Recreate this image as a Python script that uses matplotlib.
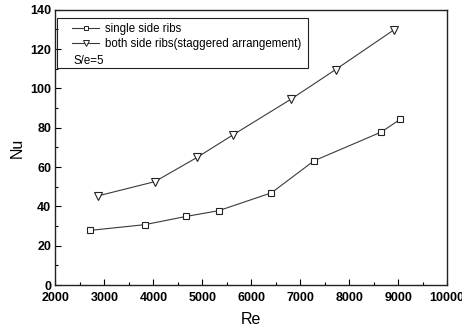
import matplotlib.pyplot as plt
from matplotlib.lines import Line2D
from matplotlib.patches import Rectangle
from matplotlib.ticker import MultipleLocator

# Nusselt number vs Reynolds number, S/e = 5
re_single = [2710, 3820, 4670, 5330, 6410, 7280, 8650, 9040]
nu_single = [27.8, 30.7, 34.9, 37.8, 46.9, 63.2, 77.8, 84.3]

re_both = [2860, 4030, 4890, 5620, 6800, 7720, 8910]
nu_both = [45.3, 52.6, 64.9, 76.3, 94.4, 109.6, 129.8]

label_single = "single side ribs"
label_both = "both side ribs(staggered arrangement)"
note = "S/e=5"

plt.rcParams['font.family'] = ['Liberation Sans', 'DejaVu Sans']

fig = plt.figure(figsize=(4.62, 3.28), dpi=100)
ax = fig.add_axes([0.120, 0.131, 0.848, 0.839])

line_col = '#3a3a3a'
ax.plot(re_single, nu_single, color=line_col, lw=0.8, marker='s', ms=4.3,
        mfc='white', mec='#222222', mew=0.8)
ax.plot(re_both, nu_both, color=line_col, lw=0.8, marker='v', ms=5.2,
        mfc='white', mec='#222222', mew=0.8)

ax.set_xlim(2000, 10000)
ax.set_ylim(0, 140)
ax.xaxis.set_major_locator(MultipleLocator(1000))
ax.xaxis.set_minor_locator(MultipleLocator(500))
ax.yaxis.set_major_locator(MultipleLocator(20))
ax.yaxis.set_minor_locator(MultipleLocator(10))
ax.tick_params(which='both', direction='in', top=False, right=False, width=0.8)
ax.tick_params(which='major', length=4, labelsize=9)
ax.tick_params(axis='x', which='major', pad=5)
ax.tick_params(axis='y', which='major', pad=3)
ax.tick_params(which='minor', length=2.5)
for lab in ax.get_xticklabels() + ax.get_yticklabels():
    lab.set_fontweight('bold')
    lab.set_family(['Liberation Sans Narrow', 'Liberation Sans'])
for sp in ax.spines.values():
    sp.set_linewidth(1.0)
    sp.set_color('#222222')

ax.set_xlabel("Re", fontsize=11.5, labelpad=6)
ax.set_ylabel("Nu", fontsize=11.5, labelpad=4)

# legend box with an extra note line
ax.add_patch(Rectangle((0.005, 0.789), 0.64, 0.182, transform=ax.transAxes,
                       fill=False, ec='#222222', lw=0.8, zorder=5))
handles = [
    Line2D([], [], color=line_col, lw=0.8, marker='s', ms=3.5, mfc='white', mec='#222222', mew=0.7),
    Line2D([], [], color=line_col, lw=0.8, marker='v', ms=4.2, mfc='white', mec='#222222', mew=0.7),
]
ax.legend(handles, [label_single, label_both], loc='upper left',
          bbox_to_anchor=(0.043, 0.952), frameon=False, fontsize=8.3,
          handlelength=2.3, handletextpad=0.5, labelspacing=0.25,
          borderaxespad=0, borderpad=0)
ax.text(0.045, 0.805, note, transform=ax.transAxes, fontsize=8.3,
        ha='left', va='baseline')

fig.savefig("out.png", dpi=100)
